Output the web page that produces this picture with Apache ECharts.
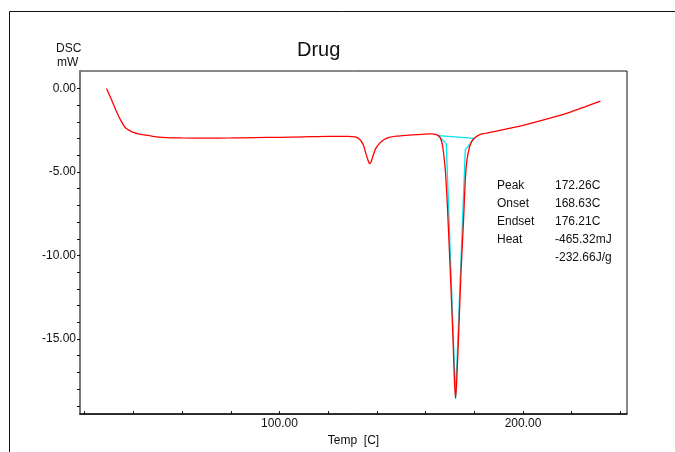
<!DOCTYPE html>
<html>
<head>
<meta charset="utf-8">
<script src="https://cdn.jsdelivr.net/npm/echarts@6/dist/echarts.min.js"></script>
<style>
  html, body { margin: 0; padding: 0; background: #fff; }
  #main { width: 675px; height: 452px; }
</style>
</head>
<body>
<div id="main"></div>
<script>
// DSC curve, [temperature C, heat flow mW]
var dscCurve = [
  [29.0, 0.0], [30.0, -0.33], [31.0, -0.66], [32.0, -1.0], [33.0, -1.35],
  [34.0, -1.67], [35.0, -1.95], [36.0, -2.2], [37.0, -2.38], [38.5, -2.52],
  [40.0, -2.62], [42.0, -2.71], [44.6, -2.78], [48.0, -2.86],
  [52.0, -2.92], [60.0, -2.96], [70.0, -2.97], [80.0, -2.96], [90.0, -2.94],
  [100.0, -2.92], [110.0, -2.89], [120.0, -2.86], [128.0, -2.86], [131.0, -2.9],
  [133.0, -3.05], [134.5, -3.4], [135.5, -3.9], [136.5, -4.35], [137.0, -4.5],
  [137.6, -4.4], [138.5, -4.0], [139.5, -3.6], [141.0, -3.3], [143.0, -3.05],
  [145.0, -2.93], [148.0, -2.85], [152.0, -2.8], [157.0, -2.76], [162.0, -2.72],
  [164.5, -2.76], [166.0, -2.95], [166.8, -3.3], [167.5, -4.0], [168.1, -4.86],
  [168.7, -6.3], [169.2, -7.84], [170.1, -10.8], [171.1, -14.4], [171.8, -17.3],
  [172.3, -18.55], [172.8, -17.5], [173.7, -14.2], [174.6, -10.8], [175.6, -7.84],
  [176.3, -5.46], [177.0, -4.27], [178.1, -3.47], [179.0, -3.15], [180.0, -2.98],
  [181.5, -2.82], [183.2, -2.72], [190.0, -2.52], [200.0, -2.2], [210.0, -1.82],
  [220.0, -1.38], [231.8, -0.76]
];

// peak analysis construction (baseline + tangents)
var peakAnalysis = [
  [168.5, -3.3], [165.3, -2.82], [180.0, -2.98], [176.3, -3.67],
  [172.3, -18.55], [168.5, -3.3]
];

var xTicks = [20, 40, 60, 80, 100, 120, 140, 160, 180, 200, 220, 240];
var xLabels = [100, 200];
var yTicks = [0, -1, -2, -3, -4, -5, -6, -7, -8, -9, -10, -11, -12, -13, -14, -15, -16, -17, -18, -19];
var yLabels = [0, -5, -10, -15];

var infoNames = ['Peak', 'Onset', 'Endset', 'Heat', ''];
var infoValues = ['172.26C', '168.63C', '176.21C', '-465.32mJ', '-232.66J/g'];

var font = 'Liberation Sans, Arial, sans-serif';

var infoText = [];
for (var i = 0; i < infoNames.length; i++) {
  infoText.push({
    type: 'text', left: 497, top: 180 + i * 18,
    style: { text: infoNames[i], font: '12px ' + font, fill: '#111' }
  });
  infoText.push({
    type: 'text', left: 555, top: 180 + i * 18,
    style: { text: infoValues[i], font: '12px ' + font, fill: '#111' }
  });
}

var chart = echarts.init(document.getElementById('main'));
chart.setOption({
  animation: false,
  backgroundColor: '#fff',
  title: {
    text: 'Drug', left: 292, top: 35,
    textStyle: { fontFamily: font, fontSize: 20, fontWeight: 'normal', color: '#111' }
  },
  grid: {
    left: 80, top: 71, right: 48, bottom: 36,
    show: true, borderColor: '#111', borderWidth: 1
  },
  xAxis: {
    type: 'value', min: 18.1, max: 242.7,
    name: 'Temp  [C]', nameLocation: 'middle', nameGap: 17,
    nameTextStyle: { fontFamily: font, fontSize: 12, color: '#111' },
    axisLine: { onZero: false, lineStyle: { color: '#111', width: 1.5 } },
    axisTick: { inside: true, length: 3, customValues: xTicks, lineStyle: { color: '#111' } },
    axisLabel: {
      customValues: xLabels, margin: 4, fontFamily: font, fontSize: 12, color: '#111',
      formatter: function (v) { return v.toFixed(2); }
    },
    splitLine: { show: false }
  },
  yAxis: {
    type: 'value', min: -19.5, max: 1.05,
    axisLine: { show: true, onZero: false, lineStyle: { color: '#777', width: 2 } },
    axisTick: { show: true, length: 3, customValues: yTicks, lineStyle: { color: '#111' } },
    axisLabel: {
      customValues: yLabels, margin: 4, fontFamily: font, fontSize: 12, color: '#111',
      formatter: function (v) { return v.toFixed(2); }
    },
    splitLine: { show: false }
  },
  graphic: [
    { type: 'line', shape: { x1: 9.5, y1: 11.5, x2: 675, y2: 11.5 }, style: { stroke: '#111', lineWidth: 1 } },
    { type: 'line', shape: { x1: 9.5, y1: 11.5, x2: 9.5, y2: 452 }, style: { stroke: '#111', lineWidth: 1 } },
    { type: 'text', left: 56, top: 43, style: { text: 'DSC', font: '12px ' + font, fill: '#111' } },
    { type: 'text', left: 57, top: 57, style: { text: 'mW', font: '12px ' + font, fill: '#111' } }
  ].concat(infoText),
  series: [
    {
      type: 'line', data: peakAnalysis, showSymbol: false,
      lineStyle: { color: '#00e5ee', width: 1.3 }, z: 2
    },
    {
      type: 'line', data: dscCurve, showSymbol: false, smooth: 0.2,
      lineStyle: { color: '#ff0000', width: 1.3 }, z: 3
    }
  ]
});
</script>
</body>
</html>
